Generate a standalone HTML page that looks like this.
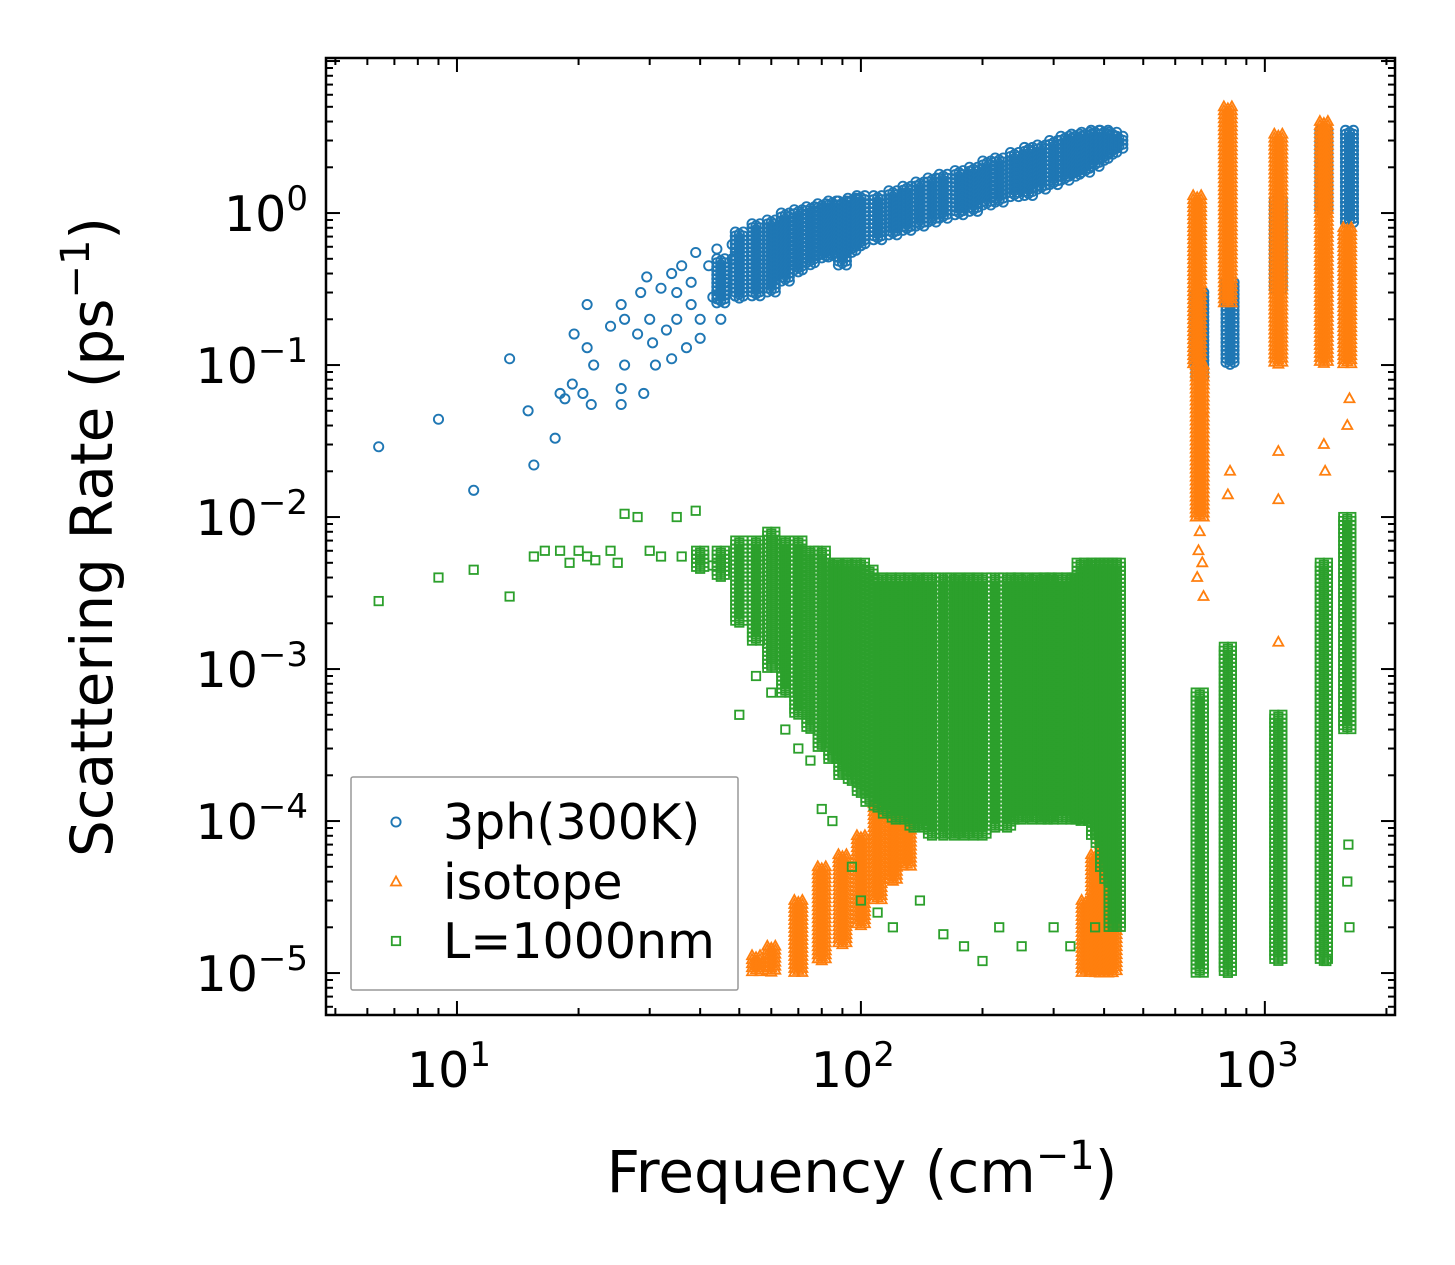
<!DOCTYPE html>
<html><head><meta charset="utf-8"><style>
html,body{margin:0;padding:0;background:#fff;}
svg{display:block;font-family:"DejaVu Sans","Liberation Sans",sans-serif;}
</style></head><body>
<svg id="chart" width="1455" height="1265" viewBox="0 0 1455 1265">
<rect x="0" y="0" width="1455" height="1265" fill="#fff"/>
<g id="marks"></g>
<g id="axes"></g>
</svg>
<script>
// ---- data ----
const xTickValues = [10, 100, 1000];
const xTickExps = ["1", "2", "3"];
const yTickValues = [1, 0.1, 0.01, 0.001, 0.0001, 0.00001];
const yTickExps = ["0", "\u22121", "\u22122", "\u22123", "\u22124", "\u22125"];

// isolated blue points [freq, rate]
const blueX = [6.4,9,11,13.5,15,15.5,17.5,18,18.5,19.3,19.5,20.5,21,21,21.5,21.8,24,25.5,25.5,25.5,26,26,28,28.5,29,29.5,30,30.5,31,32,33,34,34,35,35,36,37,38,38,39,40,40,42,43,44,45,46,48,48];
const blueY = [0.029,0.044,0.015,0.11,0.05,0.022,0.033,0.065,0.06,0.075,0.16,0.065,0.25,0.13,0.055,0.1,0.18,0.25,0.07,0.055,0.1,0.2,0.16,0.3,0.065,0.38,0.2,0.14,0.1,0.32,0.17,0.4,0.11,0.2,0.3,0.45,0.13,0.35,0.25,0.55,0.2,0.15,0.45,0.28,0.58,0.2,0.35,0.5,0.62];
// dense blue columns [freq, low, high]
const blueBandX = [45,50,55,60,65,70,75,80,85,90,95,100,110,120,130,140,150,160,175,190,205,220,240,260,280,300,320,340,360,380,400,420,435,690,820,1080,1400,1620];
const blueBandLo = [0.25,0.27,0.28,0.3,0.35,0.4,0.45,0.5,0.5,0.45,0.55,0.6,0.65,0.7,0.75,0.8,0.85,0.9,0.95,1.0,1.1,1.15,1.25,1.3,1.4,1.5,1.6,1.7,1.8,2.0,2.2,2.4,2.6,0.08,0.1,0.3,1.0,0.85];
const blueBandHi = [0.5,0.75,0.85,0.9,1.0,1.05,1.1,1.15,1.2,1.2,1.25,1.3,1.3,1.4,1.5,1.6,1.7,1.8,1.9,2.0,2.2,2.3,2.5,2.7,2.8,3.0,3.2,3.3,3.4,3.5,3.5,3.4,3.2,0.3,0.35,1.2,3.5,3.5];

// orange columns
const orangeBandX = [55,60,70,80,90,100,110,120,130,360,380,400,420,680,690,810,1080,1400,1600];
const orangeBandLo = [1e-5,1e-5,1e-5,1.2e-5,1.5e-5,2e-5,3e-5,4e-5,5e-5,1e-5,1e-5,1e-5,1e-5,0.1,0.01,0.25,0.1,0.1,0.1];
const orangeBandHi = [1.3e-5,1.5e-5,3e-5,5e-5,6e-5,8e-5,1.3e-4,2e-4,1.5e-4,3e-5,6e-5,1e-4,6e-5,1.3,0.1,5,3.3,4,0.8];
const orangeX = [680,685,690,700,705,810,820,1080,1080,1400,1410,1600,1620,270,290,300,255,1080,690,700];
const orangeY = [0.004,0.006,0.008,0.005,0.003,0.014,0.02,0.013,0.0015,0.03,0.02,0.04,0.06,0.003,0.0025,0.003,0.002,0.027,0.03,0.05];

// green columns
const greenBandX = [40,45,50,55,60,65,70,75,80,85,90,95,100,105,110,116,122,128,135,143,150,160,170,180,190,200,215,230,240,250,265,280,290,300,315,330,340,350,365,380,390,400,410,420,430,690,810,1080,1400,1600];
const greenBandLo = [0.0045,0.004,0.002,0.0015,0.001,0.0007,0.0005,0.0004,0.0003,0.00025,0.0002,0.00018,0.00015,0.00013,0.00012,0.00011,0.0001,0.0001,0.00009,0.00009,0.00008,0.00008,0.00008,0.00008,0.00008,0.00008,0.00009,0.00009,0.0001,0.0001,0.0001,0.0001,0.0001,0.0001,0.0001,0.0001,0.0001,0.0001,0.0001,0.00008,0.00007,0.00005,0.00004,0.00002,0.00002,1e-5,1e-5,1.2e-5,1.2e-5,0.0004];
const greenBandHi = [0.006,0.006,0.007,0.007,0.008,0.007,0.007,0.006,0.006,0.005,0.005,0.005,0.005,0.0045,0.004,0.004,0.004,0.004,0.004,0.004,0.004,0.004,0.004,0.004,0.004,0.004,0.004,0.004,0.004,0.004,0.004,0.004,0.004,0.004,0.004,0.004,0.004,0.005,0.005,0.005,0.005,0.005,0.005,0.005,0.005,0.0007,0.0014,0.0005,0.005,0.01];
const greenX = [6.4,9,11,13.5,15.5,16.5,18,19,20,21,22,24,25,26,28,30,32,35,36,39,43,50,55,60,65,70,75,80,85,95,100,110,120,140,160,180,200,220,250,300,330,380,1600,1610,1400,1420,1620];
const greenY = [0.0028,0.004,0.0045,0.003,0.0055,0.006,0.006,0.005,0.006,0.0055,0.0052,0.006,0.005,0.0105,0.01,0.006,0.0055,0.01,0.0055,0.011,0.0048,0.0005,0.0009,0.0007,0.0004,0.0003,0.00025,0.00012,0.0001,0.00005,0.00003,0.000025,0.00002,0.00003,0.000018,0.000015,0.000012,0.00002,0.000015,0.00002,0.000015,0.00002,0.00004,0.00007,0.000022,0.000012,0.00002];

// ---- axis functions ----
const PL=326, PR=1395, PT=58, PB=1015;
const XMIN=Math.log10(4.74), XMAX=Math.log10(2100);
const YMAX=1.02, YMIN=-5.276;
function sx(v){return PL+(Math.log10(v)-XMIN)/(XMAX-XMIN)*(PR-PL);}
function sy(v){return PT+(YMAX-Math.log10(v))/(YMAX-YMIN)*(PB-PT);}

const NS="http://www.w3.org/2000/svg";
const marks=document.getElementById('marks');
const axes=document.getElementById('axes');
function mk(tag,attrs,parent){const e=document.createElementNS(NS,tag);for(const k in attrs)e.setAttribute(k,attrs[k]);parent.appendChild(e);return e;}

function marker(kind,px,py,color,parent){
  let e;
  if(kind==='circle'){e=mk('circle',{cx:px,cy:py,r:4.6,fill:'none',stroke:color,'stroke-width':1.9},parent);}
  else if(kind==='tri'){e=mk('polygon',{points:`${px},${py-5.5} ${px-5},${py+3.5} ${px+5},${py+3.5}`,fill:'none',stroke:color,'stroke-width':1.8},parent);}
  else {e=mk('rect',{x:px-4.2,y:py-4.2,width:8.4,height:8.4,fill:'none',stroke:color,'stroke-width':1.8},parent);}
  return e;
}
function drawSeries(name,kind,color,bx,blo,bhi,px,py){
  const g=mk('g',{},marks);
  
  
  for(let i=0;i<bx.length;i++){
    const cx=sx(bx[i]); const y0=sy(bhi[i]), y1=sy(blo[i]);
    for(const off of [-4,0,4]){
      for(let y=y0+(off===0?2:0);y<=y1;y+=4){
        const m=marker(kind,cx+off,y,color,g);
        
        
      }
    }
  }
  for(let i=0;i<px.length;i++){
    const m=marker(kind,sx(px[i]),sy(py[i]),color,g);
    
    
  }
}
drawSeries('3ph','circle','#1f77b4',blueBandX,blueBandLo,blueBandHi,blueX,blueY);
drawSeries('isotope','tri','#ff7f0e',orangeBandX,orangeBandLo,orangeBandHi,orangeX,orangeY);
drawSeries('boundary','square','#2ca02c',greenBandX,greenBandLo,greenBandHi,greenX,greenY);

// ---- frame and ticks ----
const frame=mk('rect',{x:PL,y:PT,width:PR-PL,height:PB-PT,fill:'none',stroke:'#000','stroke-width':2.5},axes);


function tick(x1,y1,x2,y2){mk('line',{x1,y1,x2,y2,stroke:'#000','stroke-width':2},axes);}
for(let d=0;d<=4;d++){
  for(let k=1;k<=9;k++){
    const v=k*Math.pow(10,d); const x=sx(v);
    if(x<PL||x>PR) continue;
    const L=k===1?14:7;
    tick(x,PB,x,PB-L); tick(x,PT,x,PT+L);
  }
}
for(let d=-6;d<=1;d++){
  for(let k=1;k<=9;k++){
    const v=k*Math.pow(10,d); const y=sy(v);
    if(y<PT||y>PB) continue;
    const L=k===1?14:7;
    tick(PL,y,PL+L,y); tick(PR,y,PR-L,y);
  }
}
function expLabel(x,y,exp,anchor,name){
  const t=mk('text',{x,y,'font-size':49,'text-anchor':anchor,fill:'#000'},axes);
  
  
  const a=mk('tspan',{},t); a.textContent='10';
  const b=mk('tspan',{dy:-21,'font-size':34},t); b.textContent=exp;
  return t;
}
for(let i=0;i<xTickValues.length;i++){
  expLabel(sx(xTickValues[i])-8,1087,xTickExps[i],'middle','x-tick-label');
}
for(let i=0;i<yTickValues.length;i++){
  expLabel(308,sy(yTickValues[i])+18,yTickExps[i],'end','y-tick-label');
}
// axis titles
const xt=mk('text',{x:862,y:1192,'font-size':58,'text-anchor':'middle'},axes);


xt.innerHTML='Frequency (cm<tspan dy="-23" font-size="40">\u22121</tspan><tspan dy="23">)</tspan>';
const yt=mk('text',{x:0,y:0,'font-size':58,'text-anchor':'middle',transform:'translate(112,537) rotate(-90)'},axes);


yt.innerHTML='Scattering Rate (ps<tspan dy="-23" font-size="40">\u22121</tspan><tspan dy="23">)</tspan>';

// legend
const lg=mk('g',{},axes);


mk('rect',{x:351,y:777,width:387,height:213,fill:'#fff','fill-opacity':0.8,stroke:'#999','stroke-width':1.5,rx:2},lg);
const legNames=['3ph(300K)','isotope','L=1000nm'];
const legKinds=['circle','tri','square'];
const legColors=['#1f77b4','#ff7f0e','#2ca02c'];
const legY=[822,882,941];
for(let i=0;i<3;i++){
  const m=marker(legKinds[i],396,legY[i],legColors[i],lg);
  
  
  const t=mk('text',{x:443,y:legY[i]+17,'font-size':49},lg);
  
  
  t.textContent=legNames[i];
}
</script>
</body></html>
